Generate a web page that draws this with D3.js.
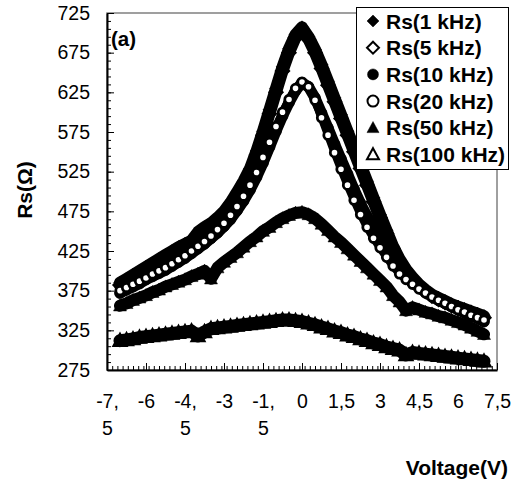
<!DOCTYPE html>
<html><head><meta charset="utf-8">
<script src="https://cdn.jsdelivr.net/npm/d3@7"></script>
<style>
html,body{margin:0;padding:0;background:#fff;}
svg{display:block;font-family:"Liberation Sans",Arial,sans-serif;}
</style></head><body>
<svg id="chart" width="513" height="483"></svg>
<script>
// ---------------- data ----------------
const voltage = [-7,-6.75,-6.5,-6.25,-6,-5.75,-5.5,-5.25,-5,-4.75,-4.5,-4.25,-4,-3.75,-3.5,-3.25,-3,-2.75,-2.5,-2.25,-2,-1.75,-1.5,-1.25,-1,-0.75,-0.5,-0.25,0,0.25,0.5,0.75,1,1.25,1.5,1.75,2,2.25,2.5,2.75,3,3.25,3.5,3.75,4,4.25,4.5,4.75,5,5.25,5.5,5.75,6,6.25,6.5,6.75,7];
const rs1k   = [385,390,395,400,405,410,415,420,425,430,434,438,449,455,460,467,475,486,499,513,529,551,576,603,630,657,680,698,707,695,679,660,639,618,597,576,555,534,513,492,471,451,431,415,402,392,383,376,370,366,362,358,355,352,349,346,343];
const rs5k   = [382,387,392,397,402,407,412,417,422,427,431,435,446,452,457,464,472,483,495,509,525,546,571,598,625,652,675,694,703,692,675,655,634,613,592,571,550,529,508,487,467,447,428,412,399,389,381,374,368,364,360,356,353,350,347,344,341];
const rs10k  = [372,376,380,384,389,393,397,401,406,411,416,422,428,434,441,448,456,465,476,488,502,518,536,556,576,595,612,627,637,632,618,599,580,560,541,522,503,485,469,455,442,428,415,403,393,385,379,373,368,363,359,355,351,347,343,340,336];
const rs20k  = [375,379,383,387,391,396,400,404,409,414,419,425,431,437,444,452,460,470,481,494,508,524,543,562,582,600,616,630,638,632,615,593,571,549,528,508,489,471,455,441,429,417,406,396,389,383,377,372,367,363,359,355,351,348,344,341,338];
const rs50k  = [356,359,363,366,369,373,376,380,383,386,389,393,396,400,390,404,411,417,423,430,437,443,450,455,461,466,470,473,474,471,466,459,451,443,436,428,420,412,404,396,388,380,369,361,350,354,351,348,346,343,341,338,335,332,328,324,320];
const rs100k = [312,313,314,316,317,318,319,320,321,322,323,324,318,323,327,328,329,330,331,332,333,334,335,336,337,338,338,337,336,334,332,329,327,324,322,319,317,314,312,309,307,304,302,300,294,297,296,295,294,293,292,291,290,289,288,287,286];
const seriesNames = ["Rs(1 kHz)","Rs(5 kHz)","Rs(10 kHz)","Rs(20 kHz)","Rs(50 kHz)","Rs(100 kHz)"];
const seriesValues = [rs1k, rs5k, rs10k, rs20k, rs50k, rs100k];
const yTickValues = [275,325,375,425,475,525,575,625,675,725];
const xTickValues = [-7.5,-6,-4.5,-3,-1.5,0,1.5,3,4.5,6,7.5];
const xTickLabels = [["-7,","5"],["-6"],["-4,","5"],["-3"],["-1,","5"],["0"],["1,5"],["3"],["4,5"],["6"],["7,5"]];
const yTitle = "Rs(Ω)";
const xTitle = "Voltage(V)";
const panelLabel = "(a)";

// ---------------- styles ----------------
const styles = [
  {shape:"diamond",  filled:true,  band:12, bandOnTop:false, r:6.5, sw:0.5},
  {shape:"diamond",  filled:false, band:12, bandOnTop:true,  r:6.5, sw:2.2},
  {shape:"circle",   filled:true,  band:11, bandOnTop:false, r:5.5, sw:0.5},
  {shape:"circle",   filled:false, band:8,  bandOnTop:false, r:4.2, sw:2.8},
  {shape:"triangle", filled:true,  band:12, bandOnTop:false, r:6.5, sw:0.5},
  {shape:"triangle", filled:false, band:13, bandOnTop:true,  r:6.5, sw:2.2}
];
function shapePath(shape, r){
  const p = d3.path();
  if (shape === "diamond"){ p.moveTo(0,-r); p.lineTo(r,0); p.lineTo(0,r); p.lineTo(-r,0); p.closePath(); }
  else if (shape === "circle"){ p.moveTo(r,0); p.arc(0,0,r,0,2*Math.PI); p.closePath(); }
  else { p.moveTo(0,-r*1.05); p.lineTo(r,r*0.8); p.lineTo(-r,r*0.8); p.closePath(); }
  return p.toString();
}

const m = {left:107, right:497, top:13, bottom:370};
const x = d3.scaleLinear().domain([-7.5,7.5]).range([m.left,m.right]);
const y = d3.scaleLinear().domain([275,725]).range([m.bottom,m.top]);
const svg = d3.select("#chart");

// plot area border
svg.append("rect").attr("x",m.left).attr("y",m.top)
  .attr("width",m.right-m.left).attr("height",m.bottom-m.top)
  .attr("fill","none").attr("stroke","#808080").attr("stroke-width",1.5);

// series
const line = d3.line().x(d=>x(d[0])).y(d=>y(d[1]));
seriesValues.forEach((vals,i)=>{
  const st = styles[i];
  const pts = voltage.map((v,j)=>[v, vals[j]]);
  const g = svg.append("g");
  const drawBand = ()=> g.append("path").datum(pts).attr("d",line)
      .attr("fill","none").attr("stroke","#000").attr("stroke-width",st.band)
      .attr("stroke-linejoin","round").attr("stroke-linecap","round");
  const drawMarkers = ()=> g.selectAll(null).data(pts).enter().append("path")
      .attr("transform",d=>`translate(${x(d[0])},${y(d[1])})`)
      .attr("d",shapePath(st.shape, st.r))
      .attr("fill", st.filled ? "#000" : "#fff")
      .attr("stroke","#000").attr("stroke-width", st.sw);
  if (st.bandOnTop){ drawMarkers(); drawBand(); } else { drawBand(); drawMarkers(); }
});

// y axis
const gy = svg.append("g").attr("transform",`translate(${m.left},0)`)
  .call(d3.axisLeft(y).tickValues(yTickValues).tickSize(-7).tickSizeOuter(0).tickPadding(17).tickFormat(d3.format("d")));
svg.append("g").attr("transform",`translate(${m.left},0)`)
  .call(d3.axisLeft(y).tickValues(d3.range(275,726,10)).tickSize(-4).tickSizeOuter(0).tickFormat(""))
  .call(g=>g.select(".domain").remove());
gy.selectAll("text").attr("font-size",19.5).attr("font-family",'"Liberation Sans",Arial,sans-serif').attr("fill","#000");
gy.select(".domain").attr("stroke-width",2);

// x axis
const gx = svg.append("g").attr("transform",`translate(0,${m.bottom})`)
  .call(d3.axisBottom(x).tickValues(xTickValues).tickSize(-7).tickSizeOuter(0).tickFormat(""));
svg.append("g").attr("transform",`translate(0,${m.bottom})`)
  .call(d3.axisBottom(x).tickValues(d3.range(0,76).map(k=>-7.5+0.2*k)).tickSize(-4).tickSizeOuter(0).tickFormat(""))
  .call(g=>g.select(".domain").remove());
gx.select(".domain").attr("stroke-width",2);
gx.selectAll(".tick").each(function(d,i){
  const t = d3.select(this).select("text").attr("y",38).attr("dy",null)
    .attr("font-size",19.5).attr("font-family",'"Liberation Sans",Arial,sans-serif').attr("fill","#000").text(null);
  xTickLabels[i].forEach((s,k)=>{
    t.append("tspan").attr("x",0).attr("dy", k===0 ? 0 : 27).text(s);
  });
});

// titles
svg.append("text").attr("transform","translate(32,190) rotate(-90)").attr("text-anchor","middle")
  .attr("font-size",21).attr("font-weight","bold").text(yTitle);
svg.append("text").attr("x",508).attr("y",475).attr("text-anchor","end")
  .attr("font-size",21).attr("font-weight","bold").text(xTitle);
svg.append("text").attr("x",111).attr("y",46)
  .attr("font-size",20.5).attr("font-weight","bold").text(panelLabel);

// legend
const lg = svg.append("g");
lg.append("rect").attr("x",356.5).attr("y",7.5).attr("width",152).attr("height",162)
  .attr("fill","#fff").attr("stroke","#000").attr("stroke-width",1);
seriesNames.forEach((name,i)=>{
  const cy = 21 + i*26.7;
  const st = styles[i];
  lg.append("path").attr("transform",`translate(373,${cy})`)
    .attr("d",shapePath(st.shape, st.shape==="circle"?5.5:6))
    .attr("fill", st.filled ? "#000" : "#fff").attr("stroke","#000").attr("stroke-width", st.filled?0.5:2);
  lg.append("text").attr("x",386).attr("y",cy+7.5).attr("font-size",21).attr("font-weight","bold").text(name);
});
</script>
</body></html>
